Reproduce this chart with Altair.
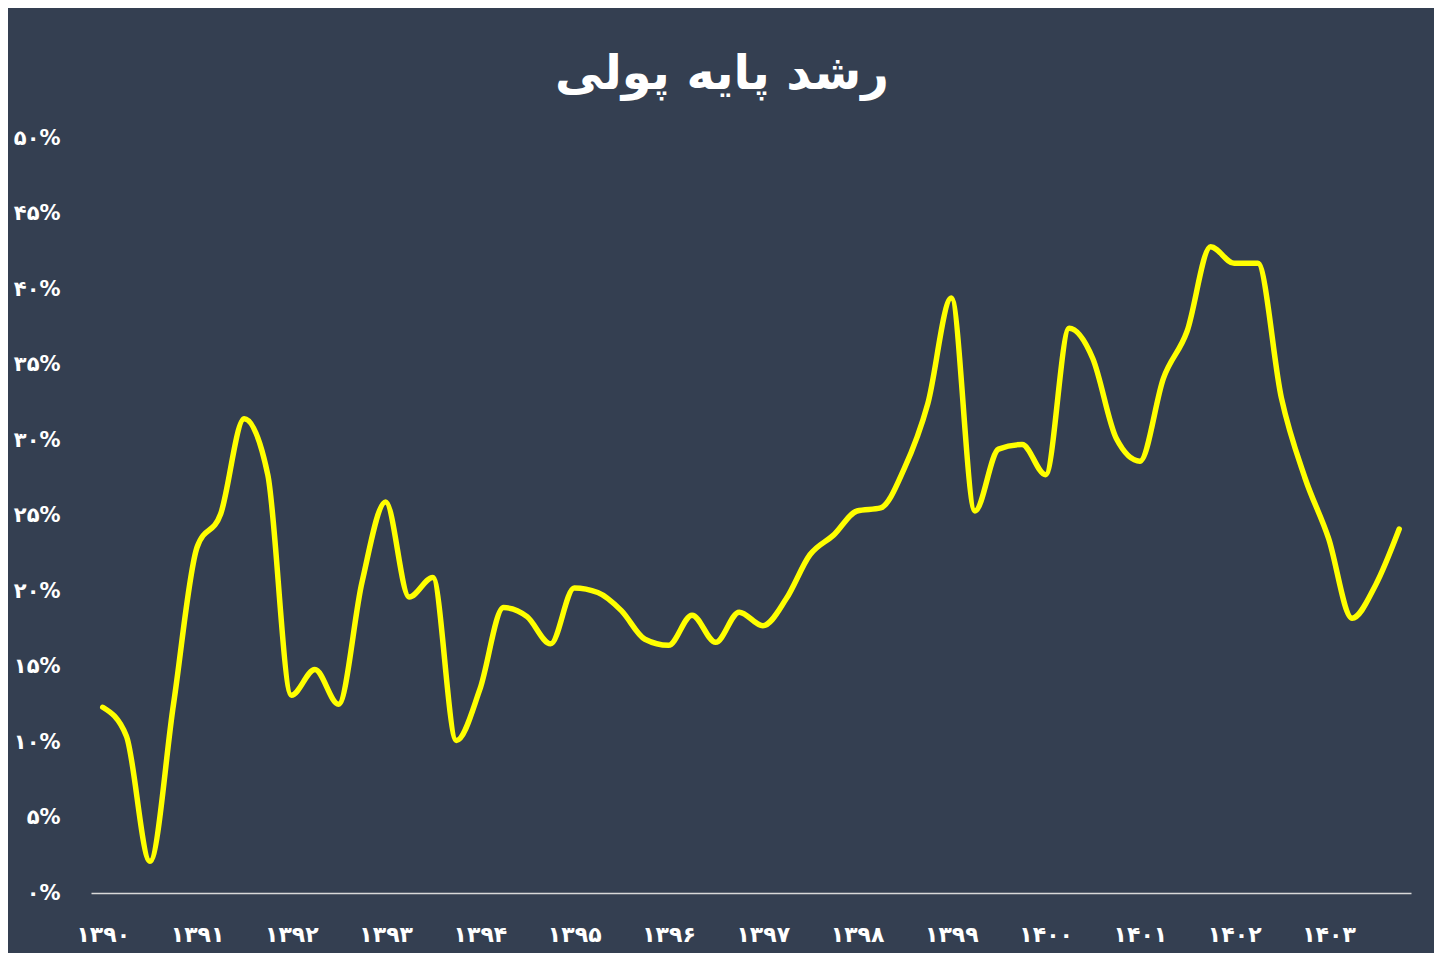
import altair as alt
import pandas as pd

years = ["۱۳۹۰", "۱۳۹۱", "۱۳۹۲", "۱۳۹۳", "۱۳۹۴", "۱۳۹۵", "۱۳۹۶",
         "۱۳۹۷", "۱۳۹۸", "۱۳۹۹", "۱۴۰۰", "۱۴۰۱", "۱۴۰۲", "۱۴۰۳"]

# quarterly money-base growth (%), 1390 Q1 .. 1403 Q4
growth = [12.3, 10.4, 2.1, 12.5, 22.9, 25.1, 31.4, 27.7,
          13.1, 14.8, 12.5, 20.6, 25.9, 19.6, 20.9, 10.1,
          13.5, 18.9, 18.3, 16.5, 20.2, 19.9, 18.7, 16.8,
          16.4, 18.4, 16.6, 18.6, 17.7, 19.5, 22.4, 23.7,
          25.3, 25.5, 28.1, 32.4, 39.4, 25.3, 29.4, 29.7,
          27.7, 37.4, 35.4, 30.1, 28.6, 34.1, 37.2, 42.8,
          41.7, 41.7, 32.8, 27.5, 23.5, 18.2, 20.4, 24.1]

y_ticks = [0, 5, 10, 15, 20, 25, 30, 35, 40, 45, 50]
y_labels = ["۰%", "۵%", "۱۰%", "۱۵%", "۲۰%", "۲۵%",
            "۳۰%", "۳۵%", "۴۰%", "۴۵%", "۵۰%"]

df = pd.DataFrame({"q": list(range(len(growth))), "g": growth})

x_expr = "[" + ",".join(f"'{y}'" for y in years) + "][datum.value/4]"
y_expr = "[" + ",".join(f"'{y}'" for y in y_labels) + "][datum.value/5]"

FONT = "DejaVu Sans"

chart = alt.Chart(df).mark_line(
    color="#ffff00", strokeWidth=5.5, interpolate="monotone", strokeCap="round"
).encode(
    x=alt.X("q:Q",
            scale=alt.Scale(domain=[-0.5, 55.5], nice=False, zero=False),
            axis=alt.Axis(values=list(range(0, 56, 4)), labelExpr=x_expr,
                          title=None, grid=False, ticks=False,
                          domainColor="#d9d9d9", domainWidth=1.5,
                          labelColor="white", labelFont=FONT,
                          labelFontWeight="bold", labelFontSize=22,
                          labelPadding=31, labelFlush=False)),
    y=alt.Y("g:Q",
            scale=alt.Scale(domain=[0, 50], nice=False),
            axis=alt.Axis(values=y_ticks, labelExpr=y_expr,
                          title=None, grid=False, ticks=False, domain=False,
                          labelColor="white", labelFont=FONT,
                          labelFontWeight="bold", labelFontSize=21,
                          labelPadding=31)),
).properties(
    width=1320, height=755,
    autosize="none",
    padding={"left": 83, "top": 130, "right": 23, "bottom": 60},
    background="#343f51",
    title=alt.TitleParams(text="رشد پایه پولی", font=FONT, fontSize=48,
                          fontWeight="bold", color="white", anchor="middle",
                          dx=-29, offset=28),
).configure_view(stroke=None)

chart.save("out.html", embed_options={"renderer": "svg", "actions": False})
